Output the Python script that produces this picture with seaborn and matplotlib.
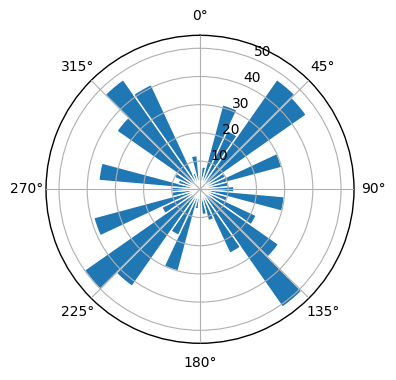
import numpy as np
import matplotlib
matplotlib.use("Agg")
import matplotlib.pyplot as plt
import seaborn as sns

# Direction bins (degrees, clockwise from north) and bar lengths
directions = [0, 10, 20, 30, 40, 50, 60, 70, 80, 90, 100, 110,
              120, 130, 140, 150, 160, 170, 180, 190, 200, 210, 220, 230,
              240, 250, 260, 270, 280, 290, 300, 310, 320, 330, 340, 350]
values = [5, 8, 31, 23, 47.5, 46, 10, 30, 10, 12, 30, 10,
          22, 34, 51, 25, 11.5, 9, 5, 7, 30, 18, 42, 50,
          15, 39, 10, 10, 36, 8, 10, 36, 47.5, 41, 6, 12]
r_ticks = [10, 20, 30, 40, 50]

sns.set_style("white")
plt.rcParams["font.family"] = ["DejaVu Sans"]
color = sns.color_palette("tab10")[0]

fig = plt.figure(figsize=(3.96, 3.80), dpi=100)
ax = fig.add_axes([0.1162, 0.0966, 0.7778, 0.8105], projection="polar")
ax.set_theta_zero_location("N")
ax.set_theta_direction(-1)

theta = np.deg2rad(directions)
width = np.deg2rad(10)
ax.bar(theta, values, width=width, color=color, edgecolor="white", linewidth=1.0, zorder=2)

ax.set_ylim(0, 54.6)
ax.set_yticks(r_ticks)
ax.set_yticklabels([str(t) for t in r_ticks])
ax.set_xticks(np.deg2rad(np.arange(0, 360, 45)))
ax.set_xticklabels([f"{d}°" for d in range(0, 360, 45)])
ax.tick_params(labelsize=10, colors="black")
ax.grid(True, color="#b0b0b0", linewidth=0.8)
ax.set_axisbelow(False)
for sp in ax.spines.values():
    sp.set_color("black")
    sp.set_linewidth(1.0)

fig.savefig("out.png", dpi=100)
